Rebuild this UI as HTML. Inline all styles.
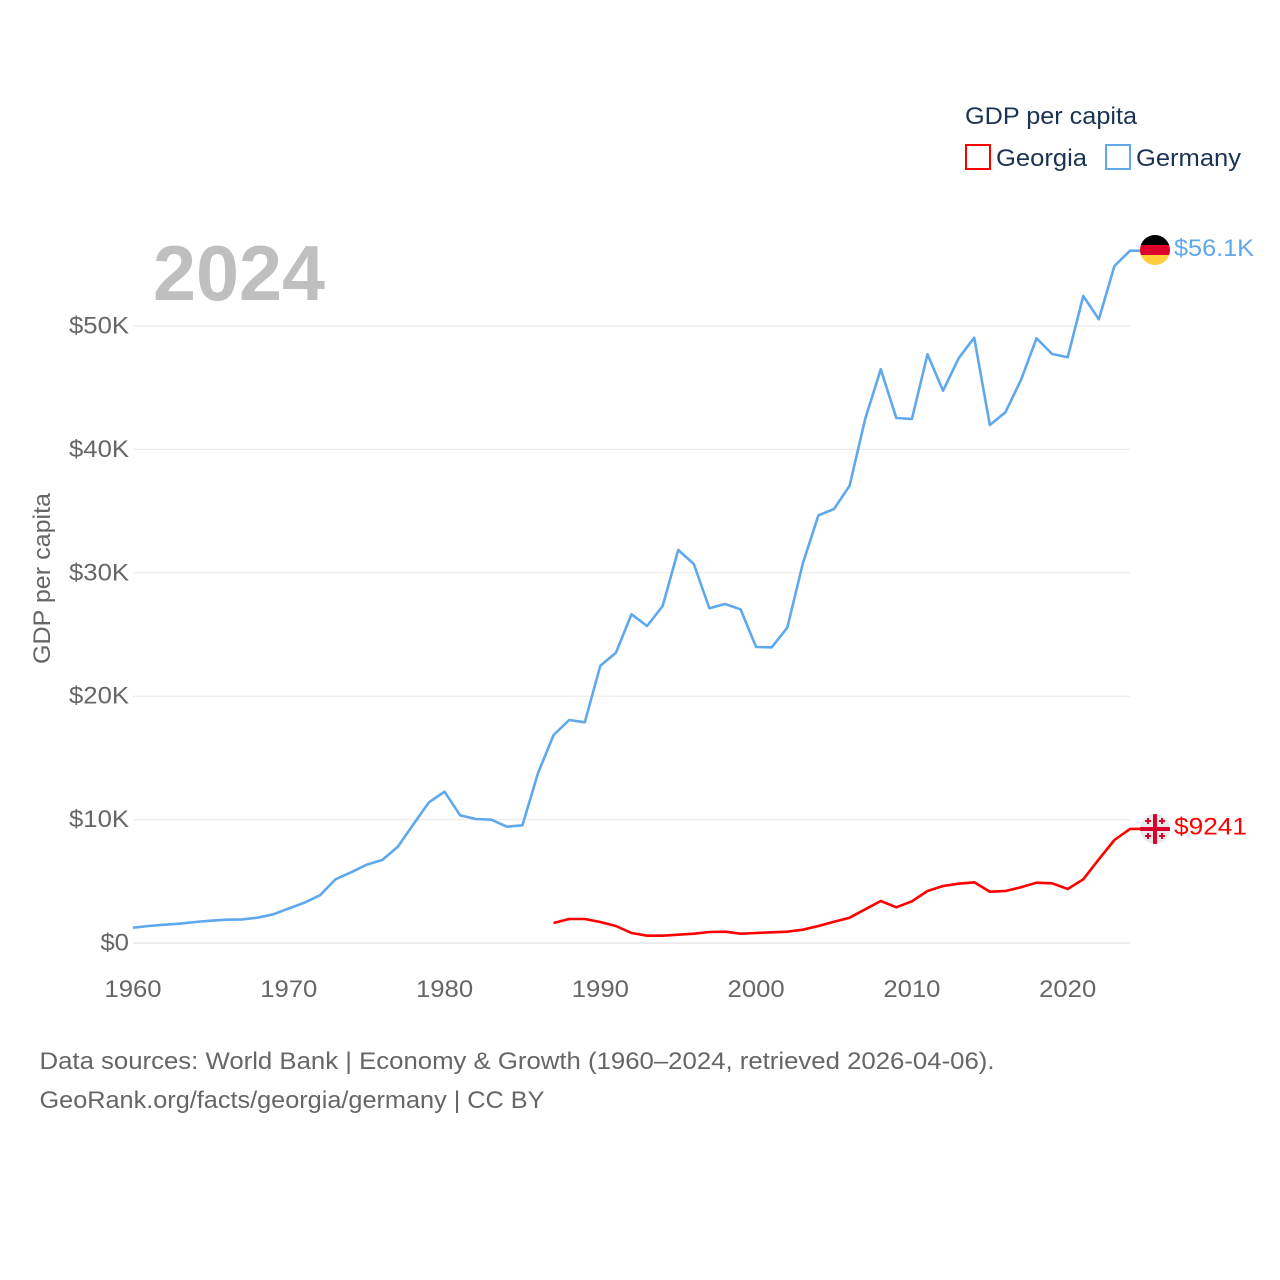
<!DOCTYPE html>
<html lang="en">
<head>
<meta charset="utf-8">
<title>GDP per capita: Georgia and Germany</title>
<style>
html,body{margin:0;padding:0;background:#fff;}
svg{display:block;}
text{font-family:"Liberation Sans",sans-serif;}
</style>
</head>
<body>
<svg id="chart" xmlns="http://www.w3.org/2000/svg" width="1280" height="1280" viewBox="0 0 1280 1280">
  <defs>
    <clipPath id="flag-clip-de"><circle cx="0" cy="0" r="15"></circle></clipPath>
  </defs>
  <rect x="0" y="0" width="1280" height="1280" fill="#ffffff"></rect>

  <g id="grid"></g>
  <g id="yticks"></g>
  <g id="xticks"></g>

  <text transform="translate(50,578.5) rotate(-90)" text-anchor="middle" font-size="24" fill="#666666" textLength="171" lengthAdjust="spacingAndGlyphs">GDP per capita</text>

  <text x="153" y="300" font-size="78" font-weight="700" fill="#bfbfbf" textLength="172" lengthAdjust="spacingAndGlyphs">2024</text>

  <g id="series"></g>

  <g id="flag-germany">
    <g clip-path="url(#flag-clip-de)">
      <rect x="-15" y="-15" width="30" height="10" fill="#000000"></rect>
      <rect x="-15" y="-5" width="30" height="10" fill="#dd0029"></rect>
      <rect x="-15" y="5" width="30" height="10" fill="#ffce3a"></rect>
    </g>
  </g>
  <g id="flag-georgia">
    <g clip-path="url(#flag-clip-de)">
      <rect x="-15" y="-15" width="30" height="30" fill="#e9e9e9"></rect>
      <rect x="-15" y="-2" width="30" height="4" fill="#d9002f"></rect>
      <rect x="-2" y="-15" width="4" height="30" fill="#d9002f"></rect>
      <path d="M-8-11h2v2h2v2h-2v2h-2v-2h-2v-2h2zM6-11h2v2h2v2h-2v2h-2v-2h-2v-2h2zM-8 4h2v2h2v2h-2v2h-2v-2h-2v-2h2zM6 4h2v2h2v2h-2v2h-2v-2h-2v-2h2z" fill="#d9002f"></path>
    </g>
  </g>
  <text id="value-germany" x="1174" font-size="24" fill="#5fa8ec" textLength="80" lengthAdjust="spacingAndGlyphs">$56.1K</text>
  <text id="value-georgia" x="1174" font-size="24" fill="#ff0000" textLength="73" lengthAdjust="spacingAndGlyphs">$9241</text>

  <g>
    <text x="965" y="124" font-size="24" fill="#1a3354" textLength="172" lengthAdjust="spacingAndGlyphs">GDP per capita</text>
    <g>
      <rect x="966" y="145" width="24" height="24" fill="none" stroke="#ff0000" stroke-width="2"></rect>
      <text x="996" y="166" font-size="24" fill="#1a3354" textLength="91" lengthAdjust="spacingAndGlyphs">Georgia</text>
    </g>
    <g>
      <rect x="1106" y="145" width="24" height="24" fill="none" stroke="#5fa8ec" stroke-width="2"></rect>
      <text x="1136" y="166" font-size="24" fill="#1a3354" textLength="105" lengthAdjust="spacingAndGlyphs">Germany</text>
    </g>
  </g>

  <text x="39.5" y="1069" font-size="24" fill="#666666" textLength="955" lengthAdjust="spacingAndGlyphs">Data sources: World Bank | Economy &amp; Growth (1960–2024, retrieved 2026-04-06).</text>
  <text x="39.5" y="1108" font-size="24" fill="#666666" textLength="505" lengthAdjust="spacingAndGlyphs">GeoRank.org/facts/georgia/germany | CC BY</text>
</svg>

<script>
const firstYear = 1960;
const lastYear = 2024;
const georgiaFirstYear = 1987;

const germanyValues = [1240,1378,1483,1564,1702,1807,1888,1912,2050,2326,
  2796,3266,3865,5162,5729,6345,6726,7804,9619,11402,
  12261,10348,10049,9992,9425,9538,13776,16856,18071,17885,
  22472,23525,26637,25689,27310,31848,30713,27123,27472,27042,
  23987,23963,25551,30770,34659,35170,37058,42464,46491,42545,
  42464,47707,44757,47382,49052,41977,43006,45624,49003,47731,
  47464,52431,50543,54862,56100];

const georgiaValues = [1621,1945,1945,1702,1378,810,592,592,673,754,
  891,916,754,810,867,916,1078,1378,1726,2050,
  2731,3404,2893,3379,4214,4619,4805,4919,4157,4214,
  4514,4887,4838,4376,5162,6783,8347,9241];

const yTickValues = [0,10000,20000,30000,40000,50000];
const yTickLabels = ["$0","$10K","$20K","$30K","$40K","$50K"];
const xTickValues = [1960,1970,1980,1990,2000,2010,2020];

const NS = "http://www.w3.org/2000/svg";
const plotLeft = 133, plotRight = 1130, plotBottom = 943, pxPerUnit = 617 / 50000;

function xScale(year) {
  return plotLeft + (year - firstYear) * (plotRight - plotLeft) / (lastYear - firstYear);
}
function yScale(value) {
  return plotBottom - value * pxPerUnit;
}
function stretch(el, factor) {
  el.setAttribute('textLength', (el.getComputedTextLength() * factor).toFixed(1));
  el.setAttribute('lengthAdjust', 'spacingAndGlyphs');
}

const gridGroup = document.getElementById('grid');
const yGroup = document.getElementById('yticks');
yTickValues.forEach(function (v, i) {
  const line = document.createElementNS(NS, 'line');
  
  
  line.setAttribute('x1', plotLeft);
  line.setAttribute('x2', plotRight);
  line.setAttribute('y1', yScale(v));
  line.setAttribute('y2', yScale(v));
  line.setAttribute('stroke', v === 0 ? '#e6e6e6' : '#ebebeb');
  line.setAttribute('stroke-width', v === 0 ? 1.5 : 1.2);
  gridGroup.appendChild(line);

  const label = document.createElementNS(NS, 'text');
  
  
  label.setAttribute('x', 129);
  label.setAttribute('y', yScale(v) + 7.5);
  label.setAttribute('text-anchor', 'end');
  label.setAttribute('font-size', '24');
  label.setAttribute('fill', '#666666');
  label.textContent = yTickLabels[i];
  yGroup.appendChild(label);
  stretch(label, 1.07);
});

const xGroup = document.getElementById('xticks');
xTickValues.forEach(function (year) {
  const label = document.createElementNS(NS, 'text');
  
  
  label.setAttribute('x', xScale(year));
  label.setAttribute('y', 997);
  label.setAttribute('text-anchor', 'middle');
  label.setAttribute('font-size', '24');
  label.setAttribute('fill', '#666666');
  label.textContent = String(year);
  xGroup.appendChild(label);
  stretch(label, 1.07);
});

function pathFor(values, startYear) {
  let d = '';
  values.forEach(function (v, i) {
    d += (i ? 'L' : 'M') + xScale(startYear + i).toFixed(2) + ' ' + yScale(v).toFixed(2);
  });
  const last = values[values.length - 1];
  d += 'L' + (plotRight + 10) + ' ' + yScale(last).toFixed(2);
  return d;
}

const seriesGroup = document.getElementById('series');

const germanyLine = document.createElementNS(NS, 'path');


germanyLine.setAttribute('d', pathFor(germanyValues, firstYear));
germanyLine.setAttribute('fill', 'none');
germanyLine.setAttribute('stroke', '#5fa8ec');
germanyLine.setAttribute('stroke-width', '2.6');
germanyLine.setAttribute('stroke-linejoin', 'round');
seriesGroup.appendChild(germanyLine);

const georgiaLine = document.createElementNS(NS, 'path');


georgiaLine.setAttribute('d', pathFor(georgiaValues, georgiaFirstYear));
georgiaLine.setAttribute('fill', 'none');
georgiaLine.setAttribute('stroke', '#ff0000');
georgiaLine.setAttribute('stroke-width', '2.6');
georgiaLine.setAttribute('stroke-linejoin', 'round');
seriesGroup.appendChild(georgiaLine);

const germanyEndY = yScale(germanyValues[germanyValues.length - 1]);
const georgiaEndY = yScale(georgiaValues[georgiaValues.length - 1]);
document.getElementById('flag-germany').setAttribute('transform', 'translate(1155,' + (germanyEndY - 0.7).toFixed(1) + ')');
document.getElementById('flag-georgia').setAttribute('transform', 'translate(1155,' + georgiaEndY.toFixed(1) + ')');
document.getElementById('value-germany').setAttribute('y', (germanyEndY + 5.5).toFixed(1));
document.getElementById('value-georgia').setAttribute('y', (georgiaEndY + 5.5).toFixed(1));
</script>
</body>
</html>
